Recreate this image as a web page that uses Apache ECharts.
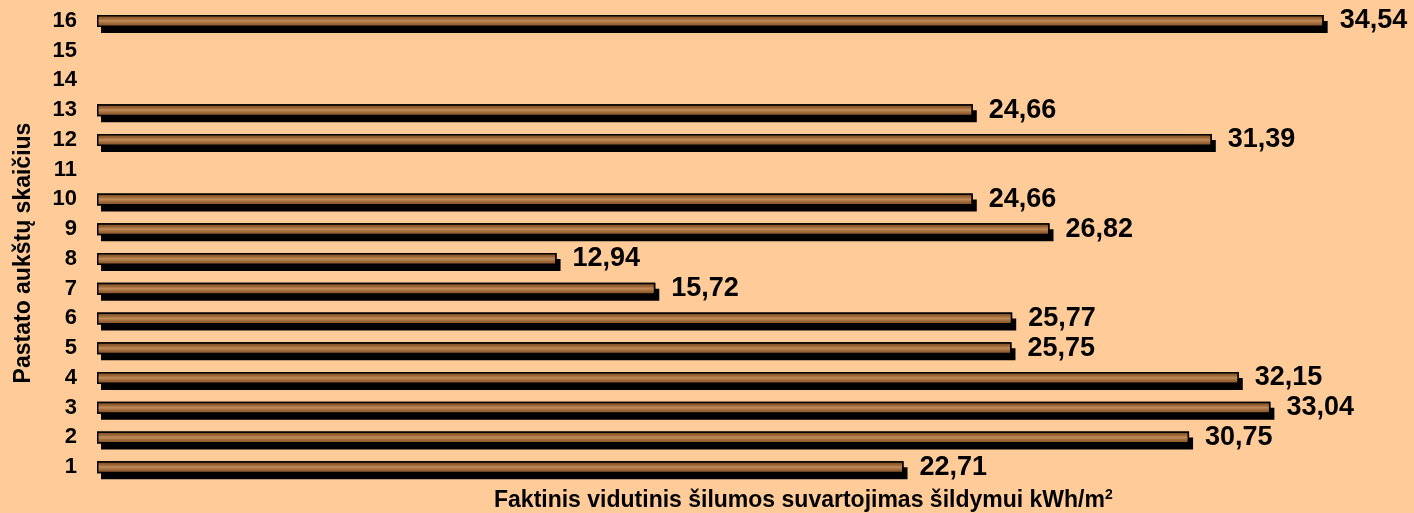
<!DOCTYPE html>
<html>
<head>
<meta charset="utf-8">
<script src="https://cdn.jsdelivr.net/npm/echarts@6/dist/echarts.min.js"></script>
<style>
  html, body { margin: 0; padding: 0; background: #ffcc99; }
</style>
</head>
<body>
<div id="chart" style="width:1414px;height:513px;"></div>
<script>
// aukštų skaičius (kategorijos)
var floors = ['1','2','3','4','5','6','7','8','9','10','11','12','13','14','15','16'];
// kWh/m2, tuščios vietos - null
var consumption = [22.71, 30.75, 33.04, 32.15, 25.75, 25.77, 15.72, 12.94, 26.82, 24.66, null, 31.39, 24.66, null, null, 34.54];

var yTitle = 'Pastato aukštų skaičius';
var xTitle = 'Faktinis vidutinis šilumos suvartojimas šildymui kWh/m';

var chart = echarts.init(document.getElementById('chart'), null, {renderer: 'canvas'});

// medienos imitacija
var wood = new echarts.graphic.LinearGradient(0, 0, 0, 1, [
  {offset: 0, color: '#70441f'},
  {offset: 0.3, color: '#9a6434'},
  {offset: 0.5, color: '#bf8c5a'},
  {offset: 0.7, color: '#a06a3a'},
  {offset: 1, color: '#7a4b24'}
]);

var option = {
  backgroundColor: '#ffcc99',
  animation: false,
  textStyle: { fontFamily: 'Liberation Sans, Arial, sans-serif' },
  title: {
    text: xTitle + '{sup|2}',
    left: 489,
    top: 483,
    textStyle: {
      fontSize: 23, fontWeight: 'bold', color: '#000',
      rich: { sup: { fontSize: 14, fontWeight: 'bold', color: '#000', verticalAlign: 'top', padding: [0, 0, 12, 0] } }
    }
  },
  grid: { left: 97, right: 74, top: 6, bottom: 31, containLabel: false },
  xAxis: {
    type: 'value',
    min: 0,
    max: 35,
    show: false
  },
  yAxis: {
    type: 'category',
    data: floors,
    name: yTitle,
    nameLocation: 'middle',
    nameGap: 62,
    nameRotate: 90,
    nameTextStyle: { fontSize: 23, fontWeight: 'bold', color: '#000', padding: [0, 0, 0, -18] },
    axisLine: { show: false },
    axisTick: { show: false },
    axisLabel: { fontSize: 22, fontWeight: 'bold', color: '#000', margin: 20 }
  },
  series: [
    {
      // šešėlis
      type: 'bar',
      data: consumption,
      barWidth: 12,
      silent: true,
      itemStyle: {
        color: '#000',
        shadowColor: '#000',
        shadowOffsetX: 4,
        shadowOffsetY: 6,
        shadowBlur: 0
      }
    },
    {
      type: 'bar',
      data: consumption,
      barWidth: 12,
      barGap: '-100%',
      itemStyle: {
        color: wood,
        borderColor: '#000',
        borderWidth: 1.5
      },
      label: {
        show: true,
        position: 'right',
        distance: 16,
        fontSize: 27,
        fontWeight: 'bold',
        color: '#000',
        formatter: function (p) { return p.value.toFixed(2).replace('.', ','); }
      }
    }
  ]
};

chart.setOption(option);
</script>
</body>
</html>
